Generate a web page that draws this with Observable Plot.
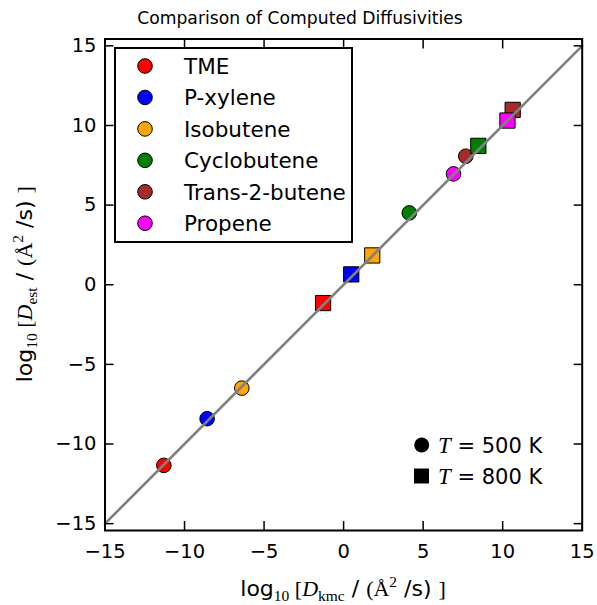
<!DOCTYPE html>
<html>
<head>
<meta charset="utf-8">
<script src="https://cdn.jsdelivr.net/npm/d3@7"></script>
<script src="https://cdn.jsdelivr.net/npm/@observablehq/plot@0.6"></script>
<style>
  html, body { margin: 0; padding: 0; background: #fff; }
  #chart svg { display: block; }
</style>
</head>
<body>
<div id="chart"></div>
<script>
// ---- data ----
const molecules = ["TME", "P-xylene", "Isobutene", "Cyclobutene", "Trans-2-butene", "Propene"];
const colors    = ["#ff0000", "#0000ff", "#ffa500", "#008000", "#a52a2a", "#ff00ff"];
// T = 500 K (circles)
const kmc500 = [-11.30, -8.58, -6.40, 4.13, 7.68, 6.91];
const est500 = [-11.34, -8.41, -6.49, 4.51, 8.07, 6.96];
// T = 800 K (squares)
const kmc800 = [-1.29, 0.48, 1.80, 8.47, 10.63, 10.30];
const est800 = [-1.15, 0.65, 1.84, 8.72, 10.98, 10.31];
const ticks = [-15, -10, -5, 0, 5, 10, 15];
const diagonal = [-15, 15];
const tempLabels = ["500 K", "800 K"];
const title = "Comparison of Computed Diffusivities";

const rows500 = molecules.map((m, i) => ({m, c: colors[i], x: kmc500[i], y: est500[i]}));
const rows800 = molecules.map((m, i) => ({m, c: colors[i], x: kmc800[i], y: est800[i]}));

const W = 597, H = 605;
const mL = 104.5, mR = 15.3, mT = 38.5, mB = 75;
const TK = 9; // inward tick length

const plot = Plot.plot({
  width: W, height: H,
  marginLeft: mL, marginRight: mR, marginTop: mT, marginBottom: mB,
  style: {fontFamily: "DejaVu Sans", fontSize: "19.5px", color: "black", background: "white"},
  x: {domain: [-15, 15], label: null},
  y: {domain: [-15.43, 15.43], label: null},
  marks: [
    Plot.dot(rows500, {x: "x", y: "y", r: 7.3, symbol: "circle", fill: d => d.c, stroke: "black", strokeWidth: 1}),
    Plot.dot(rows800, {x: "x", y: "y", r: 8.6, symbol: "square", fill: d => d.c, stroke: "black", strokeWidth: 1}),
    Plot.line(diagonal, {x: d => d, y: d => d, stroke: "#808080", strokeWidth: 2.6}),
    Plot.frame({stroke: "black", strokeWidth: 2}),
    // tick labels
    Plot.axisX({ticks, tickSize: 0, tickPadding: 14, label: null}),
    Plot.axisY({ticks, tickSize: 0, tickPadding: 8.5, label: null}),
    // inward ticks on all four sides
    Plot.axisX({ticks, tickSize: TK, dy: -TK, strokeWidth: 1.5, tickFormat: () => "", label: null}),
    Plot.axisX({anchor: "top", ticks, tickSize: TK, dy: TK, strokeWidth: 1.5, tickFormat: () => "", label: null}),
    Plot.axisY({ticks, tickSize: TK, dx: TK, strokeWidth: 1.5, tickFormat: () => "", label: null}),
    Plot.axisY({anchor: "right", ticks, tickSize: TK, dx: -TK, strokeWidth: 1.5, tickFormat: () => "", label: null})
  ]
});
document.getElementById("chart").appendChild(plot);

const svg = d3.select(plot);
const SERIF = "Liberation Serif, DejaVu Serif, serif";

// title
svg.append("text")
  .attr("x", 300).attr("y", 24)
  .attr("text-anchor", "middle")
  .attr("font-family", "DejaVu Sans").attr("font-size", 17.2)
  .text(title);

// math-style axis labels
function mathLabel(t, sub) {
  t.append("tspan").text("log");
  t.append("tspan").attr("font-family", SERIF).attr("font-size", 15.5).attr("dy", 5).text("10");
  t.append("tspan").attr("font-family", SERIF).attr("dy", -5).text(" [");
  t.append("tspan").attr("font-family", SERIF).attr("font-style", "italic").text("D");
  t.append("tspan").attr("font-family", SERIF).attr("font-size", 15.5).attr("dy", 5).text(sub);
  t.append("tspan").attr("dy", -5).text(" / ");
  t.append("tspan").attr("font-family", SERIF).text("(Å");
  t.append("tspan").attr("font-family", SERIF).attr("font-size", 15.5).attr("dy", -9).text("2");
  t.append("tspan").attr("dy", 9).text(" /s) ");
  t.append("tspan").attr("font-family", SERIF).text("]");
}
const cx = mL + (W - mL - mR) / 2;
const cy = mT + (H - mT - mB) / 2;
mathLabel(svg.append("text")
  .attr("x", cx).attr("y", 596)
  .attr("text-anchor", "middle")
  .attr("font-family", "DejaVu Sans").attr("font-size", 22), "kmc");
mathLabel(svg.append("text")
  .attr("transform", `translate(32,${cy}) rotate(-90)`)
  .attr("text-anchor", "middle")
  .attr("font-family", "DejaVu Sans").attr("font-size", 22), "est");

// molecule legend
const lg = svg.append("g").attr("text-anchor", "start");
lg.append("rect").attr("x", 115).attr("y", 48).attr("width", 237).attr("height", 194)
  .attr("fill", "white").attr("stroke", "black").attr("stroke-width", 2);
molecules.forEach((m, i) => {
  const y = 66 + i * 31.45;
  lg.append("circle").attr("cx", 145).attr("cy", y).attr("r", 7.3)
    .attr("fill", colors[i]).attr("stroke", "black").attr("stroke-width", 1);
  lg.append("text").attr("x", 184).attr("y", y + 8)
    .attr("text-anchor", "start")
    .attr("font-family", "DejaVu Sans").attr("font-size", 21.5).text(m);
});

// temperature legend
const tg = svg.append("g").attr("text-anchor", "start");
tempLabels.forEach((lab, i) => {
  const y = 445 + i * 31;
  if (i === 0) tg.append("circle").attr("cx", 421.7).attr("cy", y).attr("r", 7.5).attr("fill", "black");
  else tg.append("rect").attr("x", 414).attr("y", y - 7.5).attr("width", 15).attr("height", 15).attr("fill", "black");
  const t = tg.append("text").attr("x", 438).attr("y", y + 7.5)
    .attr("text-anchor", "start")
    .attr("font-family", "DejaVu Sans").attr("font-size", 21);
  t.append("tspan").attr("font-family", SERIF).attr("font-style", "italic").attr("font-size", 23).text("T");
  t.append("tspan").text(" = " + lab);
});
</script>
</body>
</html>
